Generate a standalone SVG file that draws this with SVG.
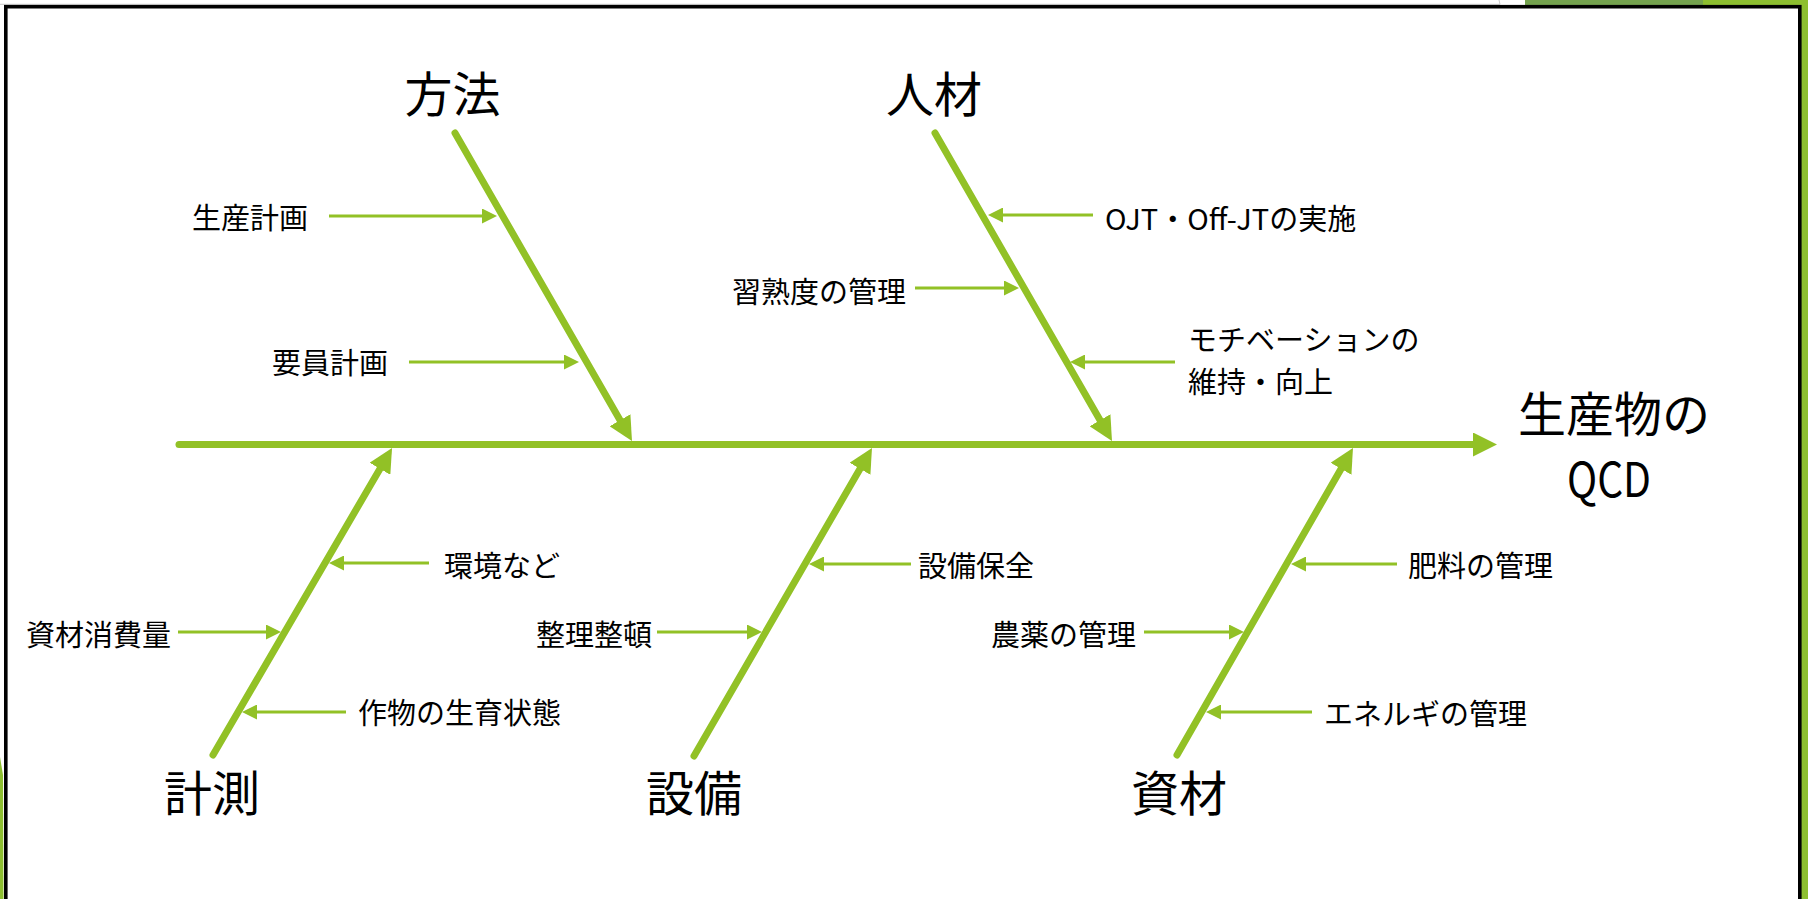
<svg xmlns="http://www.w3.org/2000/svg" width="1808" height="899" viewBox="0 0 1808 899">
<style>
  .bone { stroke: #92C126; stroke-width: 7; stroke-linecap: round; fill: none; }
  .small { stroke: #92C126; stroke-width: 3; fill: none; }
  .big { font-family: "Noto Sans CJK JP", "Noto Sans", sans-serif; font-size: 48px; fill: #000; text-anchor: middle; dominant-baseline: central; }
  .lbl { font-family: "Noto Sans CJK JP", "Noto Sans", sans-serif; font-size: 29px; fill: #000; dominant-baseline: central; }
</style>
<defs>
  <marker id="ah" markerUnits="userSpaceOnUse" viewBox="0 0 24 24" markerWidth="24" markerHeight="24" refX="12" refY="12" orient="auto">
    <path d="M0,0 L24,12 L0,24 z" fill="#92C126"/>
  </marker>
  <marker id="as" markerUnits="userSpaceOnUse" viewBox="0 0 15 15" markerWidth="15" markerHeight="15" refX="9" refY="7.5" orient="auto">
    <path d="M0,0 L15,7.5 L0,15 z" fill="#92C126"/>
  </marker>
</defs>
<rect x="0" y="0" width="1808" height="899" fill="#fff"/>
<!-- slide decorations -->
<line x1="0" y1="4.3" x2="1500" y2="4.3" stroke="#c8c8c8" stroke-width="1"/>
<line x1="1499" y1="0" x2="1500" y2="4.3" stroke="#c8c8c8" stroke-width="1"/>
<polygon points="1525,0 1703,0 1703,5 1525,5" fill="#74A24E"/>
<polygon points="1703,0 1808,0 1808,899 1801,899 1801,5 1703,5" fill="#8DBF30"/>
<polygon points="0,757 3,775 3.5,899 0,899" fill="#8DBF30"/>
<rect x="5.8" y="6.7" width="1794" height="910" fill="none" stroke="#000" stroke-width="3.6"/>

<g id="connectors">
  <line id="spine" class="bone" x1="179" y1="444.5" x2="1485" y2="444.5" marker-end="url(#ah)"/>
  <line class="bone" x1="455" y1="133" x2="626" y2="430.6" marker-end="url(#ah)"/>
  <line class="bone" x1="935" y1="133" x2="1106" y2="430.6" marker-end="url(#ah)"/>
  <line class="bone" x1="213" y1="755" x2="386" y2="458.4" marker-end="url(#ah)"/>
  <line class="bone" x1="694" y1="756" x2="866" y2="458.4" marker-end="url(#ah)"/>
  <line class="bone" x1="1177" y1="755" x2="1347" y2="458.4" marker-end="url(#ah)"/>

  <line class="small" x1="329" y1="216" x2="491" y2="216" marker-end="url(#as)"/>
  <line class="small" x1="409" y1="362" x2="573" y2="362" marker-end="url(#as)"/>
  <line class="small" x1="1093" y1="215" x2="994" y2="215" marker-end="url(#as)"/>
  <line class="small" x1="915" y1="288" x2="1013" y2="288" marker-end="url(#as)"/>
  <line class="small" x1="1175" y1="362" x2="1076" y2="362" marker-end="url(#as)"/>
  <line class="small" x1="429" y1="563" x2="335" y2="563" marker-end="url(#as)"/>
  <line class="small" x1="178" y1="632" x2="275" y2="632" marker-end="url(#as)"/>
  <line class="small" x1="346" y1="712" x2="248" y2="712" marker-end="url(#as)"/>
  <line class="small" x1="911" y1="564" x2="815" y2="564" marker-end="url(#as)"/>
  <line class="small" x1="657" y1="632" x2="756" y2="632" marker-end="url(#as)"/>
  <line class="small" x1="1397" y1="564" x2="1297" y2="564" marker-end="url(#as)"/>
  <line class="small" x1="1144" y1="632" x2="1238" y2="632" marker-end="url(#as)"/>
  <line class="small" x1="1312" y1="712" x2="1212" y2="712" marker-end="url(#as)"/>
</g>

<g id="node-houhou"><text class="big" x="452.5" y="91">方法</text></g>
<g id="node-jinzai"><text class="big" x="934" y="91">人材</text></g>
<g id="node-keisoku"><text class="big" x="212" y="790">計測</text></g>
<g id="node-setsubi"><text class="big" x="694" y="790">設備</text></g>
<g id="node-shizai"><text class="big" x="1179" y="790">資材</text></g>
<g id="node-result">
  <text class="big" x="1614" y="411">生産物の</text>
  <text class="big" x="1609" y="476" textLength="84" lengthAdjust="spacingAndGlyphs">QCD</text>
</g>

<g id="node-seisan"><text class="lbl" x="192" y="216">生産計画</text></g>
<g id="node-youin"><text class="lbl" x="272" y="361">要員計画</text></g>
<g id="node-ojt"><text class="lbl" x="1105" y="217">OJT・Off-JTの実施</text></g>
<g id="node-shujuku"><text class="lbl" x="732" y="290">習熟度の管理</text></g>
<g id="node-motivation">
  <text class="lbl" x="1188" y="338">モチベーションの</text>
  <text class="lbl" x="1188" y="380">維持・向上</text>
</g>
<g id="node-kankyou"><text class="lbl" x="444" y="564">環境など</text></g>
<g id="node-shizaishouhi"><text class="lbl" x="26" y="633">資材消費量</text></g>
<g id="node-sakumotsu"><text class="lbl" x="358" y="711">作物の生育状態</text></g>
<g id="node-hozen"><text class="lbl" x="918" y="564">設備保全</text></g>
<g id="node-seiri"><text class="lbl" x="536" y="633">整理整頓</text></g>
<g id="node-hiryou"><text class="lbl" x="1408" y="564">肥料の管理</text></g>
<g id="node-nouyaku"><text class="lbl" x="991" y="633">農薬の管理</text></g>
<g id="node-energy"><text class="lbl" x="1324" y="712">エネルギの管理</text></g>
</svg>
